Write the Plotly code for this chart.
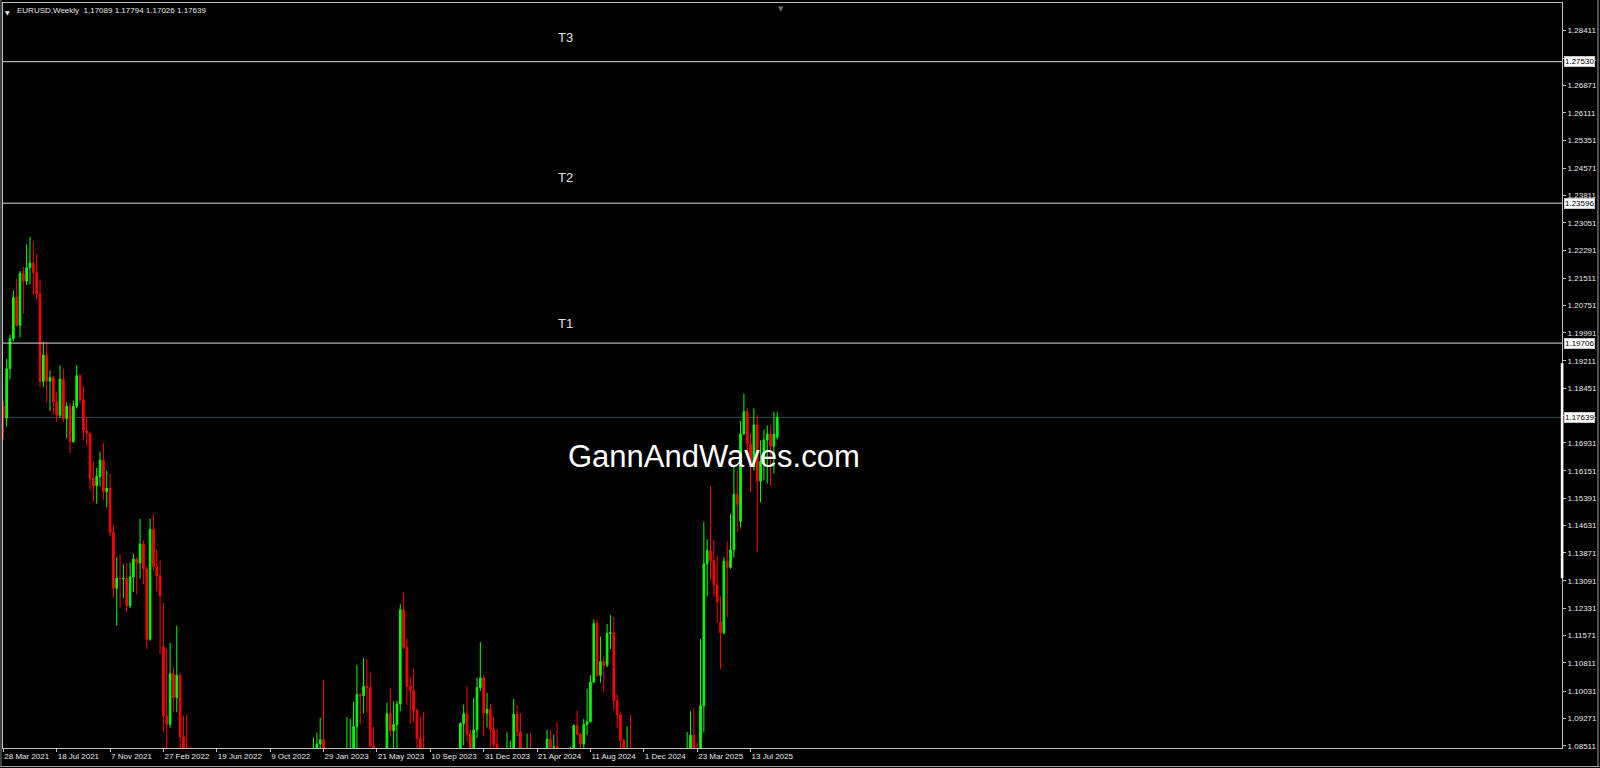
import pandas as pd
import plotly.graph_objects as go

# ---------------- data (weekly EURUSD) ----------------
first_week = "2021-03-28"

opens = [
    1.1795, 1.1762, 1.1899, 1.1983, 1.2097, 1.2020, 1.2164, 1.2143, 1.2180, 1.2193,
    1.2167, 1.2107, 1.1864, 1.1937, 1.1865, 1.1875, 1.1807, 1.1770, 1.1870, 1.1761,
    1.1795, 1.1697, 1.1795, 1.1880, 1.1813, 1.1727, 1.1720, 1.1595, 1.1574, 1.1600,
    1.1645, 1.1558, 1.1567, 1.1445, 1.1289, 1.1317, 1.1315, 1.1316, 1.1240, 1.1320,
    1.1370, 1.1359, 1.1412, 1.1343, 1.1147, 1.1453, 1.1349, 1.1323, 1.1125, 1.0933,
    1.0911, 1.1051, 1.0985, 1.1047, 1.0876, 1.0808, 1.0797, 1.0545, 1.0551, 1.0411,
    1.0564, 1.0733, 1.0719, 1.0519, 1.0495, 1.0553, 1.0427, 1.0183, 1.0083, 1.0212,
    1.0222, 1.0180, 1.0259, 1.0039, 0.9966, 0.9953, 1.0044, 1.0016, 0.9690, 0.9802,
    0.9741, 0.9723, 0.9860, 0.9965, 0.9960, 1.0353, 1.0324, 1.0398, 1.0535, 1.0530,
    1.0585, 1.0616, 1.0705, 1.0644, 1.0830, 1.0856, 1.0868, 1.0795, 1.0678, 1.0695,
    1.0546, 1.0634, 1.0641, 1.0671, 1.0760, 1.0840, 1.0905, 1.0993, 1.0990, 1.1016,
    1.1013, 1.0850, 1.0806, 1.0722, 1.0708, 1.0750, 1.0940, 1.0893, 1.0910, 1.0967,
    1.1229, 1.1125, 1.1016, 1.1005, 1.0948, 1.0872, 1.0795, 1.0777, 1.0700, 1.0657,
    1.0645, 1.0573, 1.0587, 1.0511, 1.0594, 1.0565, 1.0730, 1.0683, 1.0913, 1.0940,
    1.0884, 1.0762, 1.0895, 1.1013, 1.1039, 1.0942, 1.0952, 1.0897, 1.0855, 1.0787,
    1.0783, 1.0776, 1.0820, 1.0838, 1.0939, 1.0889, 1.0808, 1.0790, 1.0838, 1.0640,
    1.0656, 1.0694, 1.0761, 1.0770, 1.0869, 1.0847, 1.0848, 1.0801, 1.0702, 1.0692,
    1.0713, 1.0840, 1.0907, 1.0883, 1.0856, 1.0910, 1.0918, 1.1028, 1.1191, 1.1047,
    1.1085, 1.1075, 1.1163, 1.1165, 1.0976, 1.0937, 1.0866, 1.0797, 1.0834, 1.0719,
    1.0541, 1.0417, 1.0577, 1.0568, 1.0502, 1.0430, 1.0424, 1.0307, 1.0244, 1.0272,
    1.0495, 1.0362, 1.0330, 1.0491, 1.0459, 1.0375, 1.0833, 1.0880, 1.0816, 1.0803,
    1.0962, 1.1357, 1.1393, 1.1366, 1.1298, 1.1195, 1.1165, 1.1364, 1.1347, 1.1396,
    1.1550, 1.1475, 1.1718, 1.1780, 1.1690, 1.1627, 1.1743, 1.1587, 1.1641, 1.1701,
    1.1718, 1.1684, 1.17089,
]
highs = [
    1.1810, 1.1927, 1.1994, 1.2117, 1.2150, 1.2171, 1.2182, 1.2245, 1.2266, 1.2254,
    1.2218, 1.2145, 1.1975, 1.1975, 1.1895, 1.1880, 1.1834, 1.1909, 1.1900, 1.1806,
    1.1805, 1.1810, 1.1909, 1.1884, 1.1850, 1.1764, 1.1720, 1.1641, 1.1624, 1.1669,
    1.1692, 1.1616, 1.1607, 1.1464, 1.1375, 1.1383, 1.1355, 1.1360, 1.1360, 1.1386,
    1.1375, 1.1482, 1.1422, 1.1350, 1.1483, 1.1495, 1.1396, 1.1366, 1.1248, 1.1121,
    1.1137, 1.1070, 1.1185, 1.1053, 1.0934, 1.0936, 1.0850, 1.0642, 1.0570, 1.0580,
    1.0787, 1.0764, 1.0774, 1.0601, 1.0614, 1.0615, 1.0463, 1.0186, 1.0278, 1.0258,
    1.0294, 1.0368, 1.0275, 1.0090, 1.0034, 1.0113, 1.0198, 1.0050, 0.9854, 0.9999,
    0.9809, 0.9875, 1.0094, 0.9976, 1.0365, 1.0481, 1.0448, 1.0545, 1.0595, 1.0737,
    1.0657, 1.0714, 1.0713, 1.0874, 1.0887, 1.0929, 1.1033, 1.0805, 1.0805, 1.0705,
    1.0691, 1.0700, 1.0760, 1.0930, 1.0925, 1.0973, 1.1075, 1.0998, 1.1095, 1.1092,
    1.1054, 1.0904, 1.0829, 1.0779, 1.0788, 1.0971, 1.1012, 1.0976, 1.0976, 1.1245,
    1.1276, 1.1149, 1.1042, 1.1065, 1.0956, 1.0930, 1.0945, 1.0796, 1.0769, 1.0737,
    1.0655, 1.0620, 1.0640, 1.0640, 1.0695, 1.0756, 1.0756, 1.0916, 1.0965, 1.1017,
    1.0896, 1.0983, 1.1040, 1.1139, 1.1047, 1.0998, 1.0968, 1.0932, 1.0897, 1.0806,
    1.0806, 1.0888, 1.0865, 1.0981, 1.0964, 1.0942, 1.0843, 1.0885, 1.0885, 1.0690,
    1.0752, 1.0812, 1.0790, 1.0895, 1.0895, 1.0882, 1.0916, 1.0815, 1.0761, 1.0761,
    1.0848, 1.0910, 1.0948, 1.0887, 1.0926, 1.1009, 1.1047, 1.1202, 1.1201, 1.1155,
    1.1100, 1.1190, 1.1214, 1.1209, 1.0995, 1.0946, 1.0870, 1.0905, 1.0937, 1.0725,
    1.0609, 1.0597, 1.0630, 1.0595, 1.0540, 1.0456, 1.0436, 1.0437, 1.0353, 1.0522,
    1.0533, 1.0442, 1.0505, 1.0528, 1.0528, 1.0889, 1.0947, 1.0955, 1.0860, 1.1147,
    1.1474, 1.1425, 1.1573, 1.1424, 1.1380, 1.1266, 1.1375, 1.1420, 1.1495, 1.1631,
    1.1615, 1.1754, 1.1830, 1.1790, 1.1720, 1.1789, 1.1771, 1.1700, 1.1730, 1.1742,
    1.1742, 1.1780, 1.17794,
]
lows = [
    1.1704, 1.1738, 1.1870, 1.1975, 1.2016, 1.1986, 1.2051, 1.2132, 1.2133, 1.2104,
    1.2093, 1.1847, 1.1848, 1.1807, 1.1782, 1.1772, 1.1752, 1.1762, 1.1752, 1.1706,
    1.1664, 1.1693, 1.1789, 1.1802, 1.1700, 1.1684, 1.1563, 1.1529, 1.1524, 1.1571,
    1.1535, 1.1513, 1.1433, 1.1263, 1.1185, 1.1235, 1.1262, 1.1222, 1.1234, 1.1278,
    1.1272, 1.1315, 1.1300, 1.1121, 1.1143, 1.1338, 1.1280, 1.1106, 1.0890, 1.0806,
    1.0901, 1.0945, 1.0944, 1.0837, 1.0757, 1.0760, 1.0472, 1.0492, 1.0350, 1.0390,
    1.0555, 1.0627, 1.0506, 1.0359, 1.0470, 1.0365, 1.0072, 0.9952, 1.0080, 1.0097,
    1.0123, 1.0160, 1.0034, 0.9901, 0.9910, 0.9864, 0.9956, 0.9668, 0.9536, 0.9735,
    0.9632, 0.9705, 0.9808, 0.9730, 0.9935, 1.0271, 1.0224, 1.0290, 1.0444, 1.0527,
    1.0573, 1.0614, 1.0483, 1.0630, 1.0766, 1.0835, 1.0790, 1.0669, 1.0655, 1.0533,
    1.0532, 1.0524, 1.0516, 1.0655, 1.0713, 1.0788, 1.0831, 1.0910, 1.0941, 1.0942,
    1.0848, 1.0760, 1.0702, 1.0635, 1.0666, 1.0733, 1.0876, 1.0833, 1.0834, 1.0947,
    1.1119, 1.0964, 1.0912, 1.0917, 1.0845, 1.0766, 1.0772, 1.0686, 1.0632, 1.0616,
    1.0488, 1.0448, 1.0495, 1.0501, 1.0522, 1.0517, 1.0657, 1.0658, 1.0852, 1.0862,
    1.0724, 1.0723, 1.0873, 1.1003, 1.0877, 1.0902, 1.0844, 1.0812, 1.0777, 1.0722,
    1.0695, 1.0762, 1.0796, 1.0830, 1.0877, 1.0802, 1.0776, 1.0724, 1.0623, 1.0601,
    1.0636, 1.0650, 1.0724, 1.0765, 1.0805, 1.0788, 1.0800, 1.0668, 1.0670, 1.0666,
    1.0710, 1.0799, 1.0880, 1.0825, 1.0777, 1.0881, 1.0915, 1.1025, 1.1042, 1.1026,
    1.1001, 1.1069, 1.1120, 1.0951, 1.0900, 1.0811, 1.0761, 1.0778, 1.0683, 1.0496,
    1.0332, 1.0410, 1.0460, 1.0452, 1.0343, 1.0383, 1.0226, 1.0211, 1.0177, 1.0266,
    1.0358, 1.0141, 1.0285, 1.0401, 1.0360, 1.0360, 1.0822, 1.0797, 1.0733, 1.0778,
    1.0887, 1.1266, 1.1312, 1.1265, 1.1193, 1.1065, 1.1160, 1.1210, 1.1343, 1.1374,
    1.1446, 1.1458, 1.1715, 1.1658, 1.1556, 1.1616, 1.1391, 1.1528, 1.1589, 1.1580,
    1.1573, 1.1608, 1.17026,
]
closes = [
    1.1762, 1.1899, 1.1983, 1.2097, 1.2020, 1.2164, 1.2143, 1.2180, 1.2193, 1.2167,
    1.2107, 1.1864, 1.1937, 1.1865, 1.1875, 1.1807, 1.1770, 1.1870, 1.1761, 1.1795,
    1.1697, 1.1795, 1.1880, 1.1813, 1.1727, 1.1720, 1.1595, 1.1574, 1.1600, 1.1645,
    1.1558, 1.1567, 1.1445, 1.1289, 1.1317, 1.1315, 1.1316, 1.1240, 1.1320, 1.1370,
    1.1359, 1.1412, 1.1343, 1.1147, 1.1453, 1.1349, 1.1323, 1.1268, 1.0933, 1.0911,
    1.1051, 1.0985, 1.1047, 1.0876, 1.0808, 1.0797, 1.0545, 1.0551, 1.0411, 1.0564,
    1.0733, 1.0719, 1.0519, 1.0495, 1.0553, 1.0427, 1.0183, 1.0083, 1.0212, 1.0222,
    1.0180, 1.0259, 1.0039, 0.9966, 0.9953, 1.0044, 1.0016, 0.9690, 0.9802, 0.9741,
    0.9723, 0.9860, 0.9965, 0.9960, 1.0353, 1.0324, 1.0398, 1.0535, 1.0530, 1.0585,
    1.0616, 1.0705, 1.0644, 1.0830, 1.0856, 1.0868, 1.0795, 1.0678, 1.0695, 1.0546,
    1.0634, 1.0641, 1.0671, 1.0760, 1.0840, 1.0905, 1.0993, 1.0990, 1.1016, 1.1013,
    1.0850, 1.0806, 1.0722, 1.0708, 1.0750, 1.0940, 1.0893, 1.0910, 1.0967, 1.1229,
    1.1125, 1.1016, 1.1005, 1.0948, 1.0872, 1.0795, 1.0777, 1.0700, 1.0657, 1.0645,
    1.0573, 1.0587, 1.0511, 1.0594, 1.0565, 1.0730, 1.0683, 1.0913, 1.0940, 1.0884,
    1.0762, 1.0895, 1.1013, 1.1039, 1.0942, 1.0952, 1.0897, 1.0855, 1.0787, 1.0783,
    1.0776, 1.0820, 1.0838, 1.0939, 1.0889, 1.0808, 1.0790, 1.0838, 1.0640, 1.0656,
    1.0694, 1.0761, 1.0770, 1.0869, 1.0847, 1.0848, 1.0801, 1.0702, 1.0692, 1.0713,
    1.0840, 1.0907, 1.0883, 1.0856, 1.0910, 1.0918, 1.1028, 1.1191, 1.1047, 1.1085,
    1.1075, 1.1163, 1.1165, 1.0976, 1.0937, 1.0866, 1.0797, 1.0834, 1.0719, 1.0541,
    1.0417, 1.0577, 1.0568, 1.0502, 1.0430, 1.0424, 1.0307, 1.0244, 1.0272, 1.0495,
    1.0362, 1.0330, 1.0491, 1.0459, 1.0375, 1.0833, 1.0880, 1.0816, 1.0803, 1.0962,
    1.1357, 1.1393, 1.1366, 1.1298, 1.1252, 1.1165, 1.1364, 1.1347, 1.1396, 1.1550,
    1.1523, 1.1718, 1.1780, 1.1690, 1.1627, 1.1743, 1.1587, 1.1641, 1.1701, 1.1718,
    1.1684, 1.1717, 1.17639,
]

price_ticks = [1.28411, 1.27631, 1.26871, 1.26111, 1.25351, 1.24571, 1.23811, 1.23051,
               1.22291, 1.21511, 1.20751, 1.19991, 1.19211, 1.18451, 1.17691, 1.16931,
               1.16151, 1.15391, 1.14631, 1.13871, 1.13091, 1.12331, 1.11571, 1.10811,
               1.10031, 1.09271, 1.08511]
date_tick_every = 16

level_names = ["T3", "T2", "T1"]
level_values = [1.27530, 1.23596, 1.19706]
level_label_prices = [1.28189, 1.24324, 1.20264]
current_price = 1.17639
scale_marker = [1.13166, 1.19144]
y_range = [1.08447, 1.29162]
title_text = "EURUSD,Weekly  1.17089 1.17794 1.17026 1.17639"
watermark = "GannAndWaves.com"

# ---------------- figure ----------------
n = len(closes)
dates = pd.date_range(first_week, periods=n, freq="7D")
week = pd.Timedelta(days=7)
x_start = dates[0] - 0.09 * week
x_end = dates[0] + 467.24 * week

tick_idx = list(range(0, n, date_tick_every))
tick_dates = [dates[i] for i in tick_idx]
tick_text = [f"{d.day} {d.strftime('%b %Y')}" for d in tick_dates]

FONT = "Arial, Liberation Sans, sans-serif"
W, H = 1600, 768
ML, MR, MT, MB = 3, 37.5, 3, 20
PW, PH = W - ML - MR, H - MT - MB


def px_x(px):
    return (px - ML) / PW


def px_y(py):
    return (H - MB - py) / PH


fig = go.Figure()
fig.add_trace(go.Candlestick(
    x=dates, open=opens, high=highs, low=lows, close=closes,
    increasing=dict(line=dict(color="#00ff00", width=1), fillcolor="#00ff00"),
    decreasing=dict(line=dict(color="#ff0000", width=1), fillcolor="#ff0000"),
    whiskerwidth=0, hoverinfo="skip", showlegend=False,
))

shapes = []
shapes.append(dict(type="line", xref="paper", yref="y", x0=0, x1=1,
                   y0=current_price, y1=current_price, layer="below",
                   line=dict(color="#2f4f4f", width=1)))
for v in level_values:
    shapes.append(dict(type="line", xref="paper", yref="y", x0=0, x1=1, y0=v, y1=v,
                       layer="above", line=dict(color="#d8d8d8", width=1)))
shapes.append(dict(type="rect", xref="paper", yref="y", x0=px_x(1561.3), x1=px_x(1563.9),
                   y0=scale_marker[0], y1=scale_marker[1], layer="above",
                   fillcolor="#ffffff", line=dict(width=0)))
shapes.append(dict(type="line", xref="paper", yref="paper", x0=px_x(0), x1=px_x(1600),
                   y0=px_y(766.5), y1=px_y(766.5), line=dict(color="#a0a0a0", width=1)))
shapes.append(dict(type="line", xref="paper", yref="paper", x0=px_x(1.0), x1=px_x(1.0),
                   y0=px_y(0), y1=px_y(767), line=dict(color="#808080", width=1)))
shapes.append(dict(type="line", xref="paper", yref="paper", x0=px_x(1598.5), x1=px_x(1598.5),
                   y0=px_y(0), y1=px_y(767), line=dict(color="#a0a0a0", width=1)))

annotations = []
annotations.append(dict(xref="paper", yref="paper", x=px_x(15.5), y=px_y(4.5),
                        xanchor="left", yanchor="top", showarrow=False, text=title_text,
                        font=dict(family=FONT, size=8, color="#e8e8e8")))
annotations.append(dict(xref="paper", yref="paper", x=px_x(8), y=px_y(6.5),
                        xanchor="center", yanchor="top", showarrow=False, text="▼",
                        font=dict(family="DejaVu Sans", size=6, color="#e8e8e8")))
annotations.append(dict(xref="paper", yref="paper", x=px_x(781), y=px_y(3.5),
                        xanchor="center", yanchor="top", showarrow=False, text="▼",
                        font=dict(family="DejaVu Sans", size=7, color="#6e6e6e")))
for name, p in zip(level_names, level_label_prices):
    annotations.append(dict(xref="paper", yref="y", x=px_x(556), y=p,
                            xanchor="left", yanchor="middle", showarrow=False, text=name,
                            font=dict(family=FONT, size=13, color="#e0e0e0")))
for v in level_values + [current_price]:
    annotations.append(dict(xref="paper", yref="y", x=1, y=v, xanchor="left",
                            yanchor="middle", xshift=1.5, showarrow=False,
                            text=f"{v:.5f}", bgcolor="#ffffff", borderpad=0,
                            bordercolor="#c8c8c8", borderwidth=1,
                            font=dict(family=FONT, size=8, color="#000000")))
annotations.append(dict(xref="paper", yref="paper", x=px_x(714), y=px_y(457),
                        xanchor="center", yanchor="middle", showarrow=False, text=watermark,
                        font=dict(family=FONT, size=31, color="#ffffff")))

fig.update_layout(
    template="none",
    width=W, height=H, autosize=False,
    margin=dict(l=ML, r=MR, t=MT, b=MB, pad=0, autoexpand=False),
    paper_bgcolor="#000000", plot_bgcolor="#000000",
    showlegend=False,
    shapes=shapes, annotations=annotations,
    xaxis=dict(
        type="date", range=[x_start, x_end], rangeslider=dict(visible=False),
        automargin=False,
        showgrid=False, zeroline=False, showline=True, mirror=True,
        linecolor="#c0c0c0", linewidth=1,
        ticks="outside", ticklen=3, tickcolor="#c0c0c0", tickwidth=1,
        tickmode="array", tickvals=tick_dates, ticktext=tick_text,
        ticklabelposition="outside right", tickangle=0,
        tickfont=dict(family=FONT, size=8, color="#e8e8e8"),
        fixedrange=True,
    ),
    yaxis=dict(
        side="right", range=y_range, automargin=False,
        showgrid=False, zeroline=False, showline=True, mirror=True,
        linecolor="#c0c0c0", linewidth=1,
        ticks="outside", ticklen=3, tickcolor="#c0c0c0", tickwidth=1,
        tickmode="array", tickvals=price_ticks,
        ticktext=[f"{v:.5f}" for v in price_ticks],
        tickfont=dict(family=FONT, size=8, color="#e8e8e8"),
        fixedrange=True,
    ),
)

fig.write_html(
    "out.html",
    config={"displayModeBar": False, "staticPlot": True},
    post_script="document.body.style.margin='0px';document.body.style.overflow='hidden';",
)
